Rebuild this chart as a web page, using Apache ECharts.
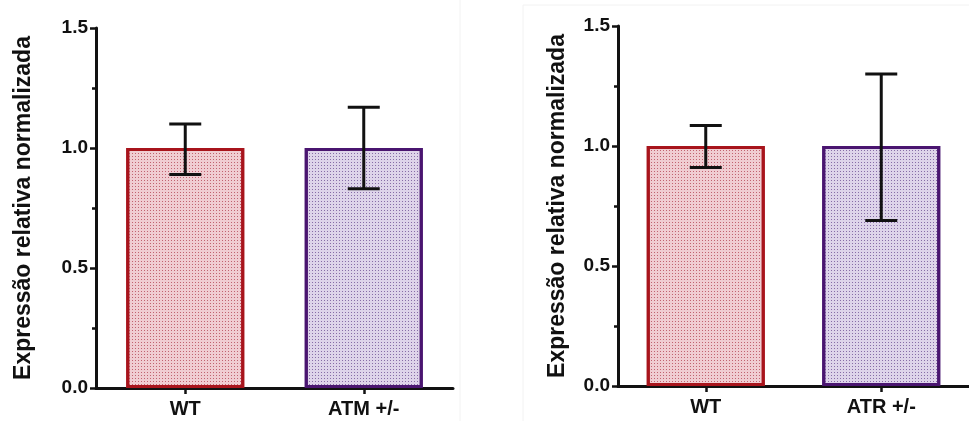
<!DOCTYPE html>
<html>
<head>
<meta charset="utf-8">
<script src="https://cdn.jsdelivr.net/npm/echarts@6/dist/echarts.min.js"></script>
<style>
html,body{margin:0;padding:0;background:#fff;}
#chart{width:969px;height:421px;}
</style>
</head>
<body>
<div id="chart"></div>
<script>
// ---- data ----
var catsLeft = ['WT', 'ATM +/-'];
var valsLeft = [1.0, 1.0];
var errLowLeft = [0.89, 0.83];
var errHighLeft = [1.10, 1.17];

var catsRight = ['WT', 'ATR +/-'];
var valsRight = [1.0, 1.0];
var errLowRight = [0.91, 0.69];
var errHighRight = [1.085, 1.30];

var yTicks = [0, 0.5, 1.0, 1.5];
var yName = 'Expressão relativa normalizada';

// ---- styles ----
var FONT = '"Liberation Sans", Arial, sans-serif';
var barStyles = [
  {color: '#f0cdd2', borderColor: '#a8141c', borderWidth: 3,
   decal: {symbol: 'rect', symbolSize: 1, color: 'rgba(185,80,95,0.85)', dashArrayX: [1, 2], dashArrayY: [1, 2], rotation: 0}},
  {color: '#ded4ea', borderColor: '#4a1570', borderWidth: 3,
   decal: {symbol: 'rect', symbolSize: 1, color: 'rgba(120,90,155,0.85)', dashArrayX: [1, 2], dashArrayY: [1, 2], rotation: 0}}
];

function makeX(gi, cats) {
  return {
    type: 'category', gridIndex: gi, data: cats,
    axisLine: {lineStyle: {color: '#111', width: 3}},
    axisTick: {show: true, alignWithLabel: true, length: 6, lineStyle: {color: '#111', width: 2.5}},
    axisLabel: {color: '#111', fontWeight: 'bold', fontSize: 20, fontFamily: FONT, margin: 11}
  };
}
function makeY(gi, gap) {
  return {
    type: 'value', gridIndex: gi, min: yTicks[0], max: yTicks[yTicks.length - 1], interval: 0.5,
    name: yName, nameLocation: 'middle', nameGap: gap,
    nameTextStyle: {color: '#111', fontWeight: 'bold', fontSize: 23, fontFamily: FONT},
    axisLine: {show: true, lineStyle: {color: '#111', width: 3}},
    axisTick: {show: true, length: 6, lineStyle: {color: '#111', width: 2.5}},
    minorTick: {show: true, splitNumber: 2, length: 4, lineStyle: {color: '#111', width: 2.5}},
    splitLine: {show: false},
    axisLabel: {color: '#111', fontWeight: 'bold', fontSize: 19, fontFamily: FONT, margin: 8,
      formatter: function (v) { return v.toFixed(1); }}
  };
}
function barData(vals) {
  return vals.map(function (v, i) { return {value: v, itemStyle: barStyles[i]}; });
}
function errData(lo, hi) {
  return lo.map(function (l, i) { return [i, l, hi[i]]; });
}
function errRender(params, api) {
  var x = api.value(0);
  var lo = api.coord([x, api.value(1)]);
  var hi = api.coord([x, api.value(2)]);
  var cap = 16;
  var st = {stroke: '#111', lineWidth: 3, fill: null};
  return {
    type: 'group',
    children: [
      {type: 'line', shape: {x1: lo[0], y1: lo[1], x2: hi[0], y2: hi[1]}, style: st},
      {type: 'line', shape: {x1: hi[0] - cap, y1: hi[1], x2: hi[0] + cap, y2: hi[1]}, style: st},
      {type: 'line', shape: {x1: lo[0] - cap, y1: lo[1], x2: lo[0] + cap, y2: lo[1]}, style: st}
    ]
  };
}

var chart = echarts.init(document.getElementById('chart'), null, {renderer: 'canvas'});
chart.setOption({
  backgroundColor: '#fff',
  animation: false,
  grid: [
    {left: 96, top: 28, width: 357, height: 360},
    {left: 618, top: 26, width: 356, height: 360}
  ],
  xAxis: [makeX(0, catsLeft), makeX(1, catsRight)],
  yAxis: [makeY(0, 61), makeY(1, 49)],
  graphic: [
    {type: 'line', shape: {x1: 460, y1: 0, x2: 460, y2: 421}, style: {stroke: '#f2f2f2', lineWidth: 1}, silent: true},
    {type: 'line', shape: {x1: 523, y1: 5, x2: 523, y2: 421}, style: {stroke: '#f2f2f2', lineWidth: 1}, silent: true},
    {type: 'line', shape: {x1: 523, y1: 5, x2: 969, y2: 5}, style: {stroke: '#f2f2f2', lineWidth: 1}, silent: true}
  ],
  series: [
    {type: 'bar', xAxisIndex: 0, yAxisIndex: 0, barWidth: 118, data: barData(valsLeft), z: 2},
    {type: 'custom', xAxisIndex: 0, yAxisIndex: 0, renderItem: errRender, data: errData(errLowLeft, errHighLeft), z: 5},
    {type: 'bar', xAxisIndex: 1, yAxisIndex: 1, barWidth: 118, data: barData(valsRight), z: 2},
    {type: 'custom', xAxisIndex: 1, yAxisIndex: 1, renderItem: errRender, data: errData(errLowRight, errHighRight), z: 5}
  ]
});
</script>
</body>
</html>
